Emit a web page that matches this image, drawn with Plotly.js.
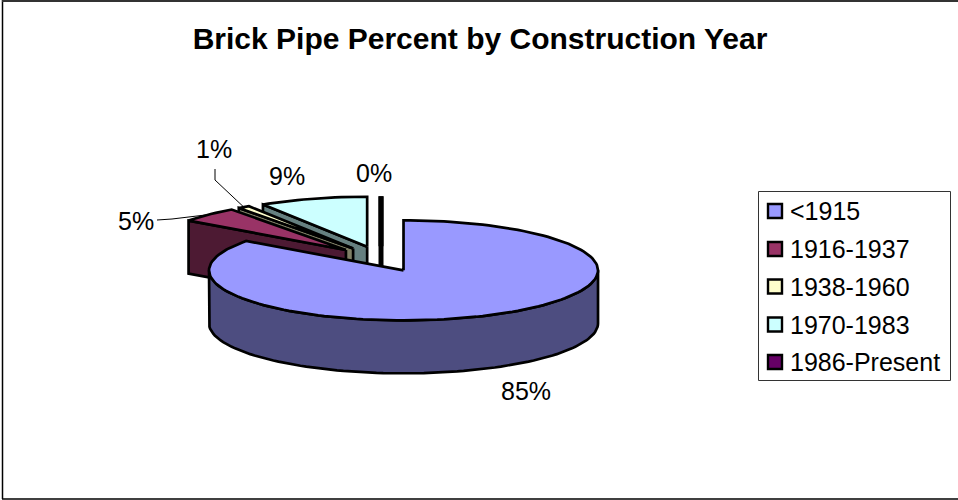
<!DOCTYPE html>
<html>
<head>
<meta charset="utf-8">
<script src="https://cdn.plot.ly/plotly-3.0.1.min.js"></script>
<style>html,body{margin:0;padding:0;background:#fff}#chart{width:958px;height:500px}</style>
</head>
<body>
<div id="chart"></div>
<script>
// Brick pipe share by construction era, as an exploded 3-D style pie.
const categories = ['<1915', '1916-1937', '1938-1960', '1970-1983', '1986-Present'];
const percents = [85, 5, 1, 9, 0];
const percentLabels = ['85%', '5%', '1%', '9%', '0%'];
const topColors = ['#9999FF', '#993366', '#FFFFCC', '#CCFFFF', '#660066'];
const sideColors = ['#4D4D80', '#4D1A33', '#808066', '#668080', '#330033'];

// Projection of the tilted pie onto the page
const pie = {cx: 381, cy: 259, rx: 194.5, ry: 50, depth: 53, explode: 0.255};
const total = percents.reduce((a, b) => a + b, 0);
const fontFamily = 'Liberation Sans, Arial, sans-serif';

function project(center, deg) {
  const t = deg * Math.PI / 180;
  return [center[0] + pie.rx * Math.sin(t), center[1] - pie.ry * Math.cos(t)];
}
function arc(center, from, to) {
  const pts = [], n = Math.max(1, Math.ceil(Math.abs(to - from) / 2));
  for (let i = 0; i <= n; i++) pts.push(project(center, from + (to - from) * i / n));
  return pts;
}
function down(p) { return [p[0], p[1] + pie.depth]; }

// Angular extent and exploded centre of every slice
let running = 0;
const slices = percents.map((v, i) => {
  const from = running / total * 360;
  running += v;
  const to = running / total * 360;
  const mid = (from + to) / 2;
  const t = mid * Math.PI / 180;
  const center = [pie.cx + pie.explode * pie.rx * Math.sin(t),
                  pie.cy - pie.explode * pie.ry * Math.cos(t)];
  return {i, from, to, mid, center};
});

const traces = [];
function face(pts, color, width) {
  traces.push({
    type: 'scatter', mode: 'lines', x: pts.map(p => p[0]), y: pts.map(p => p[1]),
    fill: 'toself', fillcolor: color, line: {color: '#000', width: width},
    showlegend: false, hoverinfo: 'skip'
  });
}

// Paint back to front: the far slices first, the large front slice last
[4, 3, 2, 1, 0].forEach(k => {
  const s = slices[k];
  // A zero-size slice collapses to a single radius, shown as a heavy stroke
  const width = s.to === s.from ? 5 : 2.7;
  // front half of the rim
  const a = Math.max(s.from, 90), b = Math.min(s.to, 270);
  if (b > a) {
    const rim = arc(s.center, a, b);
    face(rim.concat(rim.slice().reverse().map(down), [rim[0]]), sideColors[k], width);
  }
  // cut wall facing the viewer
  if (s.from > 180) {
    const outer = project(s.center, s.from);
    face([s.center, outer, down(outer), down(s.center), s.center], sideColors[k], width);
  }
  const rim = arc(s.center, s.from, s.to);
  face([s.center].concat(rim, [s.center]), topColors[k], width);
});

// Leader lines from the small slices to their labels
function leader(k, start, bend) {
  const end = project(slices[k].center, slices[k].mid);
  const pts = [start].concat(bend ? [bend] : [], [end]);
  traces.push({
    type: 'scatter', mode: 'lines', x: pts.map(p => p[0]), y: pts.map(p => p[1]),
    line: {color: '#000', width: 1}, showlegend: false, hoverinfo: 'skip'
  });
}
leader(1, [157, 220], [172, 219]);
leader(2, [215, 169], [215, 180]);

// Legend: boxed column of swatches beside the pie
const legendBox = {x0: 758.5, x1: 950.5, y0: 191.5, y1: 380.5};
const legendRows = [211, 249, 286.5, 324.5, 362];
traces.push({
  type: 'scatter', mode: 'markers', x: categories.map(() => 775), y: legendRows,
  marker: {symbol: 'square', size: 14, color: topColors, line: {color: '#000', width: 2.4}},
  showlegend: false, hoverinfo: 'skip'
});

const labelSpots = [[526, 391], [136, 221], [214, 149], [287, 176], [374, 173]];
const annotations = percentLabels.map((text, i) => ({
  xref: 'x', yref: 'y', x: labelSpots[i][0], y: labelSpots[i][1], text,
  showarrow: false, xanchor: 'center', yanchor: 'middle',
  font: {family: fontFamily, size: 25, color: '#000'}
})).concat(categories.map((name, i) => ({
  xref: 'x', yref: 'y', x: 788, y: legendRows[i], text: name.replace('<', '&lt;'),
  showarrow: false, xanchor: 'left', yanchor: 'middle',
  font: {family: fontFamily, size: 25, color: '#000'}
})));

const layout = {
  width: 958, height: 500,
  margin: {l: 0, r: 0, t: 0, b: 0},
  paper_bgcolor: '#fff', plot_bgcolor: '#fff',
  showlegend: false,
  title: {
    text: '<b>Brick Pipe Percent by Construction Year</b>',
    x: 480 / 958, xanchor: 'center', y: 1 - 38 / 500, yanchor: 'middle',
    font: {family: fontFamily, size: 30, color: '#000'}
  },
  xaxis: {range: [0, 958], visible: false, fixedrange: true},
  yaxis: {range: [500, 0], visible: false, fixedrange: true},
  annotations,
  shapes: [
    {type: 'rect', layer: 'below', xref: 'x', yref: 'y', ...legendBox, fillcolor: '#fff', line: {color: '#333', width: 1}},
    {type: 'line', xref: 'x', yref: 'y', x0: 2.5, x1: 2.5, y0: 0, y1: 499, line: {color: '#000', width: 1.5}},
    {type: 'line', xref: 'x', yref: 'y', x0: 2, x1: 958, y0: 1, y1: 1, line: {color: '#333', width: 2}},
    {type: 'line', xref: 'x', yref: 'y', x0: 2, x1: 958, y0: 499, y1: 499, line: {color: '#000', width: 1.5}}
  ]
};

Plotly.newPlot('chart', traces, layout, {displayModeBar: false, responsive: false});
</script>
</body>
</html>
